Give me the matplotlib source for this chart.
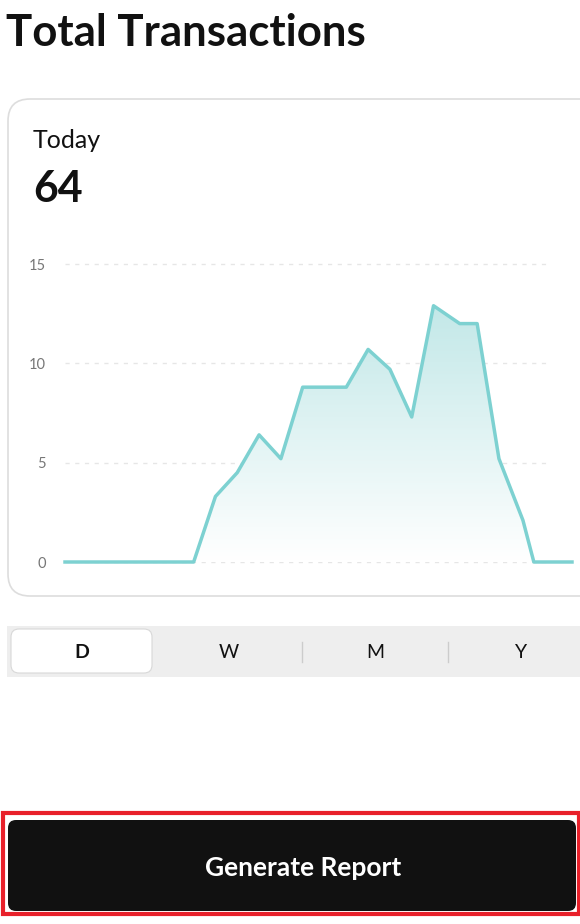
import numpy as np
import matplotlib.pyplot as plt
from matplotlib.patches import FancyBboxPatch, Rectangle, Polygon
from matplotlib.colors import LinearSegmentedColormap

plt.rcParams['font.family'] = ['Lato', 'DejaVu Sans']

hours = [0, 5.9, 6.9, 7.9, 8.9, 9.9, 10.9, 12.9, 13.9, 14.9, 15.9, 16.9, 18.1, 18.9, 19.9, 21.0, 21.5, 23.25]
counts = [0, 0, 3.3, 4.5, 6.4, 5.2, 8.8, 8.8, 10.7, 9.7, 7.3, 12.9, 12.0, 12.0, 5.2, 2.1, 0, 0]
yticks = [0, 5, 10, 15]
periods = ['D', 'W', 'M', 'Y']
title = 'Total Transactions'
today_label = 'Today'
today_value = '64'
button_text = 'Generate Report'

W, H = 580, 924
fig = plt.figure(figsize=(W / 100, H / 100), dpi=100)
bg = fig.add_axes([0, 0, 1, 1])
bg.set_xlim(0, W)
bg.set_ylim(H, 0)
bg.axis('off')

bg.text(6, 33, title, fontsize=31.5, fontweight='bold', va='center', color='#111111')

# card
bg.add_patch(FancyBboxPatch((8, 99), 600, 497, boxstyle='round,pad=0,rounding_size=22',
                            fc='white', ec='#dddddd', lw=1.2))
bg.text(33, 141, today_label, fontsize=18, va='center', color='#111111')
bg.text(33, 189, today_value, fontsize=31, fontweight='bold', va='center', color='#111111')

# segmented control
bg.add_patch(Rectangle((7, 626), 573, 51, fc='#eeeeee', ec='none'))
bg.add_patch(FancyBboxPatch((11, 629), 141, 44, boxstyle='round,pad=0,rounding_size=8',
                            fc='white', ec='#d8d8d8', lw=0.8))
for i, p in enumerate(periods):
    bg.text(82 + 146.5 * i, 652, p, fontsize=14, fontweight='bold' if i == 0 else 'normal',
            ha='center', va='center', color='#111111')
for sx in [302, 448]:
    bg.plot([sx, sx], [642, 662], color='#cccccc', lw=1)

# button
bg.add_patch(Rectangle((3, 813), 576, 101, fc='none', ec='#e8202a', lw=3))
bg.add_patch(FancyBboxPatch((8, 820), 568, 91, boxstyle='round,pad=0,rounding_size=8',
                            fc='#111111', ec='none'))
bg.text(303, 868, button_text, fontsize=19, fontweight='bold', color='white',
        ha='center', va='center')

# chart
ax = fig.add_axes([65 / W, 1 - 562 / H, (572 - 65) / W, (562 - 264) / H])
ax.set_xlim(0, 23.25)
ax.set_ylim(0, 15)
for s in ax.spines.values():
    s.set_visible(False)
ax.set_xticks([])
ax.set_yticks(yticks)
ax.tick_params(axis='y', length=0, pad=14, labelsize=10.5, labelcolor='#777777')
for t in yticks:
    ax.plot([0, 22.1], [t, t], ls=(0, (3, 4)), color='#e6e6e6', lw=1, zorder=0, clip_on=False)

line_c = '#7dd1d1'
grad = np.linspace(0.75, 0.0, 256).reshape(-1, 1)
cmap = LinearSegmentedColormap.from_list('g', ['#ffffff', '#aee0e0'])
img = ax.imshow(grad, extent=[0, 23.25, 0, 13], aspect='auto', cmap=cmap, vmin=0, vmax=1,
                origin='upper', zorder=1)
poly = Polygon(list(zip(hours, counts)) + [(23.25, 0), (0, 0)], closed=True,
               transform=ax.transData, fc='none', ec='none')
ax.add_patch(poly)
img.set_clip_path(poly)
ax.plot(hours, counts, color=line_c, lw=2.5, zorder=3, clip_on=False, solid_joinstyle='round')

fig.savefig('out.png', dpi=100)
